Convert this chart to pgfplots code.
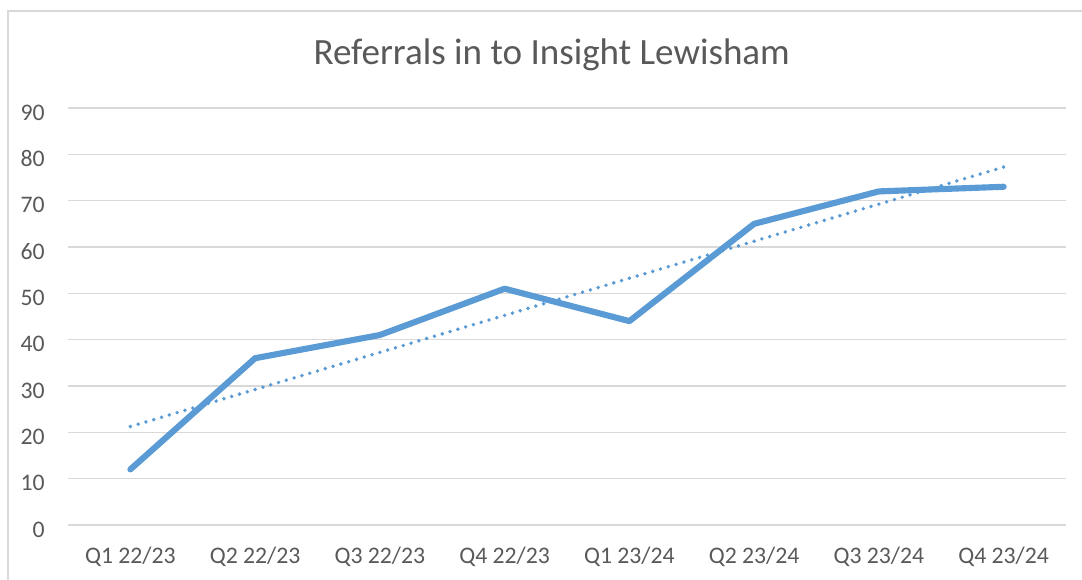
\documentclass[border=0pt]{standalone}
\usepackage{pgfplots}
\pgfplotsset{compat=1.18}
\usepackage{fontspec}
\setmainfont{Carlito}
\definecolor{ser}{HTML}{5B9BD5}
\definecolor{txt}{HTML}{595959}
\definecolor{grd}{HTML}{D9D9D9}
\begin{document}
\begin{tikzpicture}
\clip (-51pt,-41.25pt) rectangle (760.5pt,393.75pt);
\draw[grd, line width=0.9pt] (-45pt,-80pt) -- (-45pt,385.5pt) -- (820pt,385.5pt);
\begin{axis}[
  at={(0pt,0pt)}, anchor=south west,
  scale only axis,
  width=748.5pt, height=312.75pt,
  xmin=-0.5, xmax=7.5, ymin=0, ymax=90,
  ytick={0,10,...,90},
  xtick={0,...,7},
  xticklabels={Q1 22/23,Q2 22/23,Q3 22/23,Q4 22/23,Q1 23/24,Q2 23/24,Q3 23/24,Q4 23/24},
  axis line style={draw=none},
  major tick length=0pt,
  ymajorgrids,
  grid style={grd, line width=0.8pt},
  /pgf/number format/assume math mode=true,
  tick label style={txt, font=\fontsize{17.8}{20}\selectfont},
  yticklabel style={anchor=east, inner sep=0pt, xshift=-17.25pt, yshift=-3.3pt},
  xticklabel style={anchor=base, inner sep=0pt, yshift=-29.25pt},
  clip=false,
]
\addplot[ser, line width=4.6pt, line join=round, line cap=round] coordinates {(0,12)(1,36)(2,41)(3,51)(4,44)(5,65)(6,72)(7,73)};
\addplot[ser, line width=2.9pt, line cap=round, dash pattern=on 0pt off 6.1pt] coordinates {(0,21.25)(7,77.25)};
\end{axis}
\node[anchor=base, txt, font=\fontsize{27.8}{32}\selectfont] at (362.8pt,345pt) {Referrals in to Insight Lewisham};
\end{tikzpicture}
\end{document}
